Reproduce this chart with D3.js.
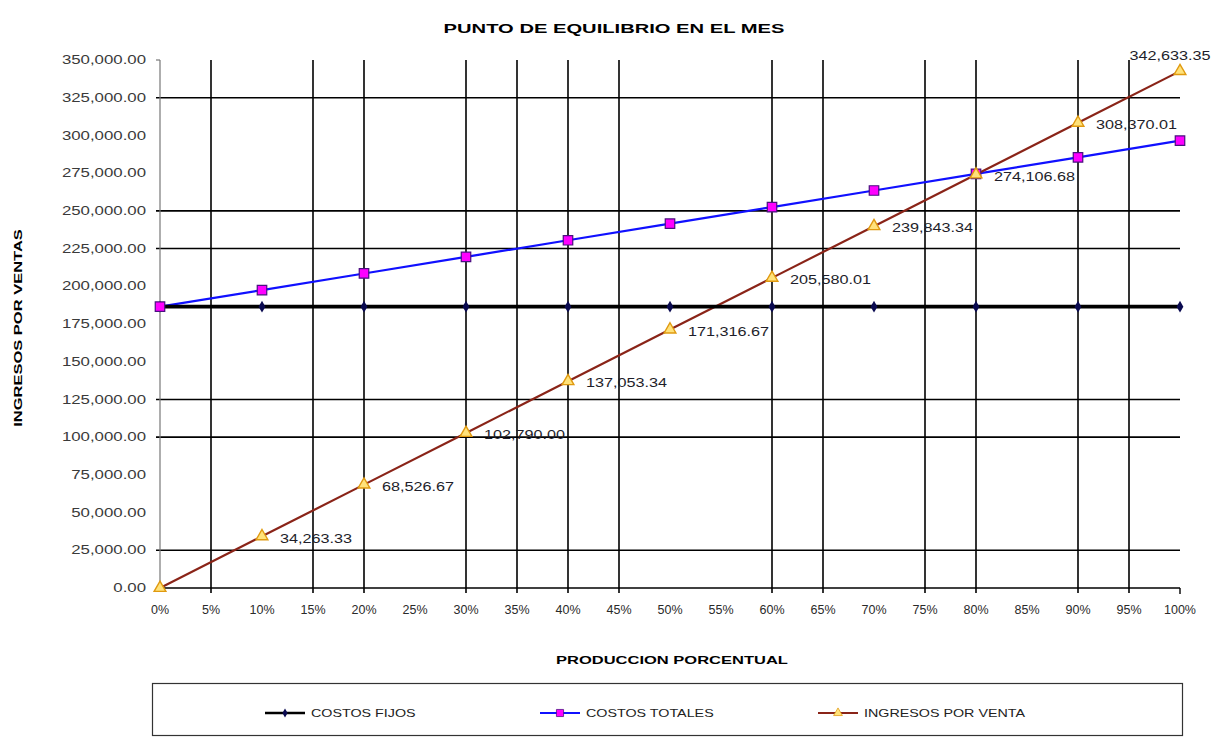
<!DOCTYPE html>
<html>
<head>
<meta charset="utf-8">
<script src="https://cdn.jsdelivr.net/npm/d3@7"></script>
<style>
  body { margin: 0; background: #fff; }
  svg { display: block; font-family: "Liberation Sans", Arial, sans-serif; }
</style>
</head>
<body>
<svg id="chart" width="1228" height="738"></svg>
<script>
// data
const produccion = [0, 10, 20, 30, 40, 50, 60, 70, 80, 90, 100];
const costosFijos = [186500, 186500, 186500, 186500, 186500, 186500, 186500, 186500, 186500, 186500, 186500];
const costosTotales = [186500, 197500, 208500, 219500, 230500, 241500, 252500, 263500, 274500, 285500, 296500];
const ingresosVenta = [0, 34263.33, 68526.67, 102790.00, 137053.34, 171316.67, 205580.01, 239843.34, 274106.68, 308370.01, 342633.35];

const xTicks = [0, 5, 10, 15, 20, 25, 30, 35, 40, 45, 50, 55, 60, 65, 70, 75, 80, 85, 90, 95, 100];
const yTicks = [0, 25000, 50000, 75000, 100000, 125000, 150000, 175000, 200000, 225000, 250000, 275000, 300000, 325000, 350000];
// grid lines that actually show in the picture
const xGridShown = [5, 15, 20, 30, 35, 40, 45, 60, 65, 75, 80, 90, 95];
const yGridShown = [25000, 100000, 125000, 225000, 250000, 325000];

const titulo = "PUNTO DE EQUILIBRIO EN EL MES";
const tituloX = "PRODUCCION PORCENTUAL";
const tituloY = "INGRESOS POR VENTAS";
const nombres = ["COSTOS FIJOS", "COSTOS TOTALES", "INGRESOS  POR VENTA"];

const width = 1228, height = 738;
const plot = { left: 160, right: 1180, top: 60, bottom: 588 };

const svg = d3.select("#chart");

const x = d3.scaleLinear().domain([0, 100]).range([plot.left, plot.right]);
const y = d3.scaleLinear().domain([0, 350000]).range([plot.bottom, plot.top]);

// stretch text horizontally like the original
function stretch(sel, k) {
  sel.each(function () {
    const w = this.getComputedTextLength();
    d3.select(this).attr("textLength", w * k).attr("lengthAdjust", "spacingAndGlyphs");
  });
}

// grid
const grid = svg.append("g").attr("class", "grid");
grid.append("g").selectAll("line")
  .data(xGridShown)
  .join("line")
  .attr("x1", d => x(d)).attr("x2", d => x(d))
  .attr("y1", y(350000)).attr("y2", plot.bottom + 5)
  .attr("stroke", "#000").attr("stroke-width", 1.6);

grid.append("g").selectAll("line")
  .data(yGridShown)
  .join("line")
  .attr("x1", plot.left - 4).attr("x2", plot.right)
  .attr("y1", d => y(d)).attr("y2", d => y(d))
  .attr("stroke", "#000").attr("stroke-width", 1.6);

// axes
svg.append("line")
  .attr("x1", plot.left).attr("x2", plot.left)
  .attr("y1", plot.top).attr("y2", plot.bottom)
  .attr("stroke", "#777").attr("stroke-width", 1.2);
svg.append("line")
  .attr("x1", plot.left - 4).attr("x2", plot.left)
  .attr("y1", y(350000)).attr("y2", y(350000))
  .attr("stroke", "#777").attr("stroke-width", 1.2);
svg.append("line")
  .attr("x1", plot.left).attr("x2", plot.right)
  .attr("y1", plot.bottom).attr("y2", plot.bottom)
  .attr("stroke", "#000").attr("stroke-width", 1.4);
svg.append("line")
  .attr("x1", plot.right).attr("x2", plot.right)
  .attr("y1", plot.bottom).attr("y2", plot.bottom + 6)
  .attr("stroke", "#000").attr("stroke-width", 1.4);

const yLabels = svg.append("g").selectAll("text")
  .data(yTicks)
  .join("text")
  .attr("x", plot.left - 14)
  .attr("y", d => y(d))
  .attr("dy", "0.35em")
  .attr("text-anchor", "end")
  .attr("font-size", 12)
  .attr("fill", "#3a3a3a")
  .text(d => d3.format(",.2f")(d));
stretch(yLabels, 1.4);

svg.append("g").selectAll("text")
  .data(xTicks)
  .join("text")
  .attr("x", d => x(d))
  .attr("y", plot.bottom + 26)
  .attr("text-anchor", "middle")
  .attr("font-size", 12.5)
  .attr("fill", "#2a2a2a")
  .text(d => d + "%");

// series
const line = d3.line()
  .x((d, i) => x(produccion[i]))
  .y(d => y(d));

svg.append("path")
  .datum(costosTotales)
  .attr("d", line)
  .attr("fill", "none")
  .attr("stroke", "#1010ff")
  .attr("stroke-width", 2.2);

svg.append("path")
  .datum(ingresosVenta)
  .attr("d", line)
  .attr("fill", "none")
  .attr("stroke", "#8a2418")
  .attr("stroke-width", 2.2);

svg.append("path")
  .datum(costosFijos)
  .attr("d", line)
  .attr("fill", "none")
  .attr("stroke", "#000")
  .attr("stroke-width", 3.6);

const diamond = d3.symbol().type(d3.symbolDiamond).size(40);
const square = d3.symbol().type(d3.symbolSquare).size(90);
const triangle = d3.symbol().type(d3.symbolTriangle).size(60);

svg.append("g").selectAll("path")
  .data(costosFijos)
  .join("path")
  .attr("transform", (d, i) => `translate(${x(produccion[i])},${y(d)})`)
  .attr("d", diamond)
  .attr("fill", "#0a0a50");

svg.append("g").selectAll("path")
  .data(costosTotales)
  .join("path")
  .attr("transform", (d, i) => `translate(${x(produccion[i])},${y(d)})`)
  .attr("d", square)
  .attr("fill", "#ff00ff")
  .attr("stroke", "#4a1080")
  .attr("stroke-width", 1.2);

svg.append("g").selectAll("path")
  .data(ingresosVenta)
  .join("path")
  .attr("transform", (d, i) => `translate(${x(produccion[i])},${y(d)})`)
  .attr("d", triangle)
  .attr("fill", "#ffe27a")
  .attr("stroke", "#e09a10")
  .attr("stroke-width", 1.4);

// data labels on ingresos (skip 0%)
const labels = svg.append("g").selectAll("text")
  .data(ingresosVenta.map((v, i) => ({ v, p: produccion[i] })).filter(d => d.p > 0))
  .join("text")
  .attr("font-size", 12)
  .attr("fill", "#1e1e2a")
  .attr("dy", "0.35em")
  .text(d => d3.format(",.2f")(d.v));
stretch(labels, 1.35);
labels.each(function (d) {
  const w = this.getComputedTextLength() * 1.35;
  const px = x(d.p), py = y(d.v);
  const t = d3.select(this);
  if (px + 18 + w > width - 4) {
    t.attr("text-anchor", "middle").attr("x", px - 10).attr("y", py - 15);
  } else {
    t.attr("x", px + 18).attr("y", py + 2);
  }
});

// titles
const tt = svg.append("text")
  .attr("x", width / 2).attr("y", 33)
  .attr("text-anchor", "middle")
  .attr("font-size", 13).attr("font-weight", "bold")
  .text(titulo);
stretch(tt, 1.55);

const tx = svg.append("text")
  .attr("x", (plot.left + plot.right) / 2 + 2).attr("y", 664)
  .attr("text-anchor", "middle")
  .attr("font-size", 11).attr("font-weight", "bold")
  .text(tituloX);
stretch(tx, 1.5);

const ty = svg.append("text")
  .attr("transform", `translate(22,${(plot.top + plot.bottom) / 2 + 4}) rotate(-90)`)
  .attr("text-anchor", "middle")
  .attr("font-size", 11).attr("font-weight", "bold")
  .text(tituloY);
stretch(ty, 1.5);

// legend
const legend = svg.append("g");
legend.append("rect")
  .attr("x", 152.5).attr("y", 683.5)
  .attr("width", 1030).attr("height", 52)
  .attr("fill", "#fff").attr("stroke", "#333").attr("stroke-width", 1.2);

const legendX = [265, 540, 818];
const legendColor = ["#000", "#1010ff", "#8a2418"];
const legendSym = [diamond, square, triangle];
const legendFill = ["#0a0a50", "#ff00ff", "#ffe27a"];
const legendStroke = ["none", "#4a1080", "#e09a10"];
const ly = 713;

const items = legend.selectAll("g.item")
  .data(nombres)
  .join("g")
  .attr("class", "item")
  .attr("transform", (d, i) => `translate(${legendX[i]},${ly})`);
items.append("line")
  .attr("x1", 0).attr("x2", 40)
  .attr("stroke", (d, i) => legendColor[i])
  .attr("stroke-width", (d, i) => i === 0 ? 2.6 : 2);
items.append("path")
  .attr("transform", "translate(20,0) scale(0.75)")
  .attr("d", (d, i) => legendSym[i]())
  .attr("fill", (d, i) => legendFill[i])
  .attr("stroke", (d, i) => legendStroke[i]);
const lt = items.append("text")
  .attr("x", 46).attr("dy", "0.35em")
  .attr("font-size", 11)
  .attr("fill", "#222")
  .text(d => d);
stretch(lt, 1.3);
</script>
</body>
</html>
